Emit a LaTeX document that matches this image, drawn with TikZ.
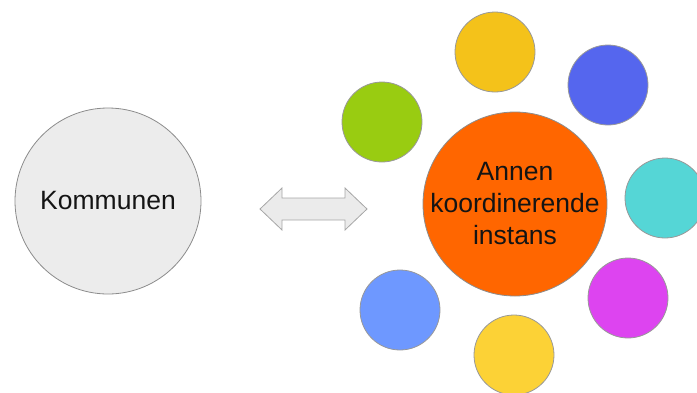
\documentclass[tikz,border=0pt]{standalone}
\usepackage{fontspec}
\setmainfont{Liberation Sans}
\usepackage{tikz}

\definecolor{kgrey}{HTML}{ECECEC}
\definecolor{korange}{HTML}{FF6600}
\definecolor{kgreen}{HTML}{99CC11}
\definecolor{kgold}{HTML}{F4C21A}
\definecolor{kblue}{HTML}{5566EE}
\definecolor{kcyan}{HTML}{55D6D6}
\definecolor{kmagenta}{HTML}{DD44F0}
\definecolor{kyellow}{HTML}{FCD236}
\definecolor{klightblue}{HTML}{6E98FF}

\tikzset{
  big/.style={shape=circle,draw=black!45,line width=0.8pt,minimum size=186pt,inner sep=0pt,align=center,text=black!92,font=\fontsize{26.5}{32}\selectfont},
  small/.style={shape=circle,draw=black!40,line width=0.8pt,minimum size=80pt,inner sep=0pt}
}

\begin{document}
\begin{tikzpicture}[x=1pt,y=-1pt]
        \useasboundingbox (0,0) rectangle (697,392);

        \node[big,fill=kgrey] (kommunen) at (108,201) {Kommunen};
        \node[big,fill=korange,minimum size=184pt,inner sep=-6pt] (instans) at (515,204) {Annen\\koordinerende\\instans};

        \node[small,fill=kgreen] (g) at (382,122) {};
        \node[small,fill=kgold] (o) at (495,52) {};
        \node[small,fill=kblue] (b) at (608,85) {};
        \node[small,fill=kcyan] (c) at (665,198) {};
        \node[small,fill=kmagenta] (m) at (628,298) {};
        \node[small,fill=kyellow] (y) at (514,355) {};
        \node[small,fill=klightblue] (l) at (400,310) {};

        % double arrow between the two
        \coordinate (left) at (260,209);
        \coordinate (right) at (367,209);
        \draw[draw=black!35,fill=black!8,line width=0.8pt]
          (left) -- ++(22,-21) -- ++(0,10) -- ++(63,0) -- ++(0,-10)
          -- (right) -- ++(-22,21) -- ++(0,-10) -- ++(-63,0) -- ++(0,10) -- cycle;

\end{tikzpicture}
\end{document}
